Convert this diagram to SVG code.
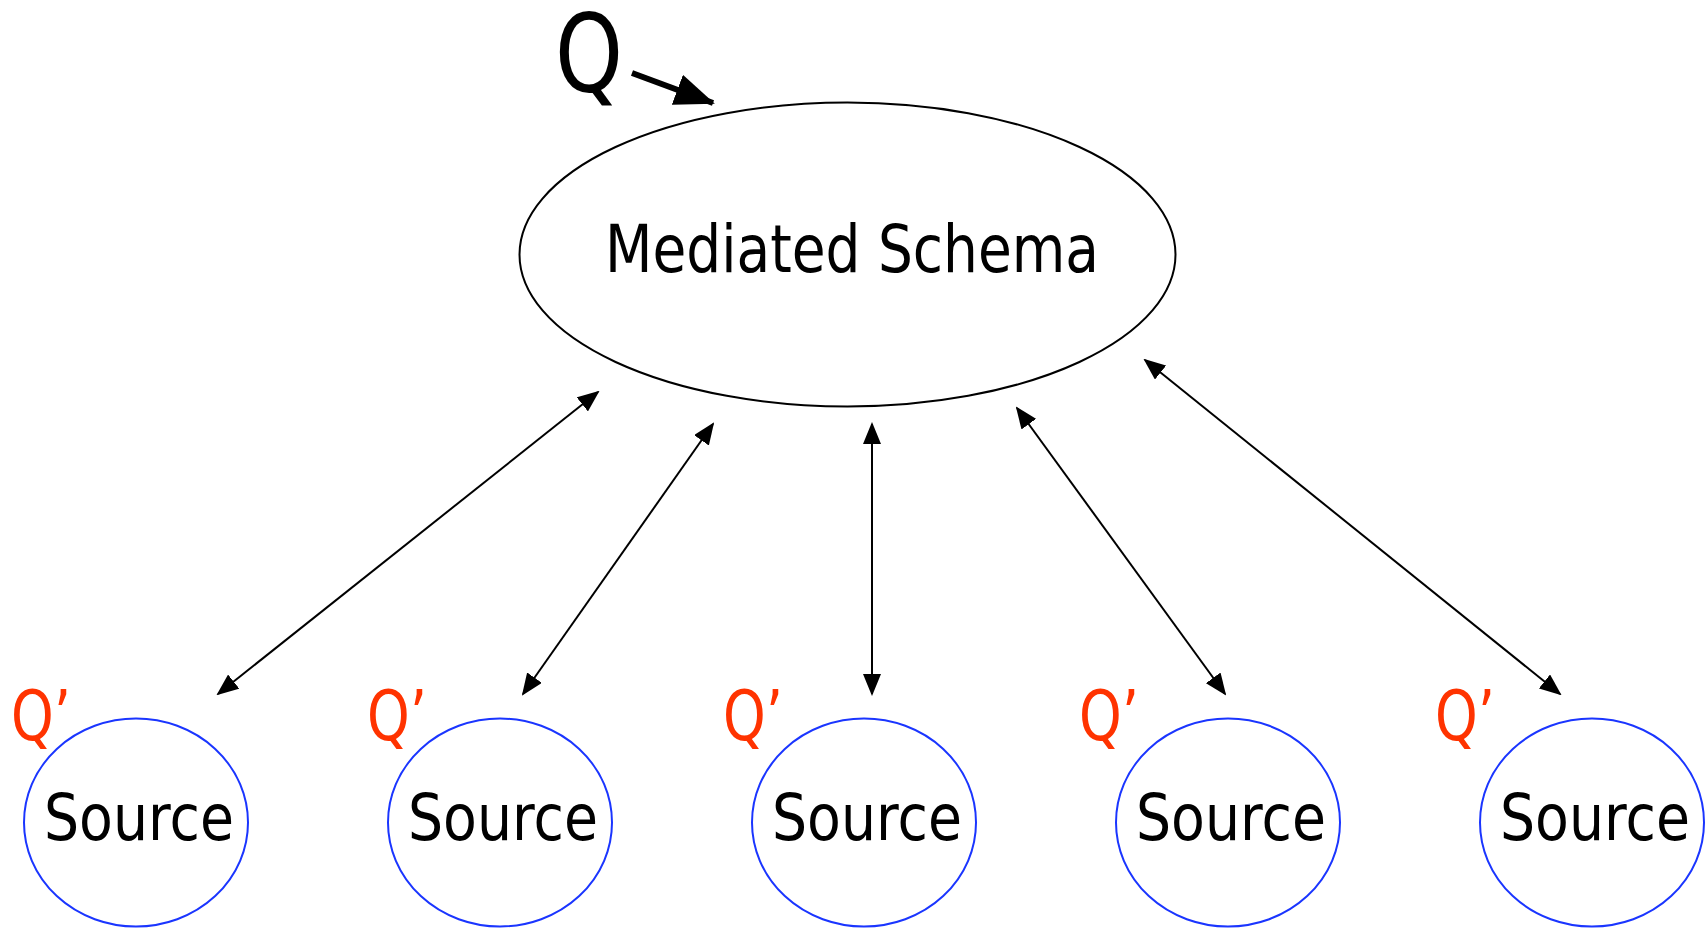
<svg xmlns="http://www.w3.org/2000/svg" width="1707" height="928" viewBox="0 0 1707 928">
<defs>
<marker id="ah" markerUnits="userSpaceOnUse" markerWidth="22" markerHeight="18" refX="20" refY="9" orient="auto-start-reverse" viewBox="0 0 22 18">
<path d="M0,0 L22,9 L0,18 Z" fill="#000"/>
</marker>
<marker id="ahBig" markerUnits="userSpaceOnUse" markerWidth="40" markerHeight="32" refX="38" refY="16" orient="auto" viewBox="0 0 40 32">
<path d="M0,0 L40,16 L0,32 Z" fill="#000"/>
</marker>
<style>
.src{fill:#fff;stroke:#1a35ff;stroke-width:2}
.stxt{font-family:"DejaVu Sans",Verdana,sans-serif;font-size:64px;fill:#000;text-anchor:middle}
.qp{font-family:"DejaVu Sans",Verdana,sans-serif;font-size:70px;fill:#ff3300}
.conn{stroke:#000;stroke-width:2;fill:none;marker-start:url(#ah);marker-end:url(#ah)}
</style>
</defs>
<rect width="1707" height="928" fill="#fff"/>
<g id="mediated">
<ellipse cx="847.5" cy="254.5" rx="328" ry="152" fill="#fff" stroke="#000" stroke-width="2"/>
<text x="852" y="272" font-family="'DejaVu Sans',Verdana,sans-serif" font-size="66" text-anchor="middle" textLength="494" lengthAdjust="spacingAndGlyphs">Mediated Schema</text>
</g>
<g id="query">
<text x="555" y="92" font-family="'DejaVu Sans',Verdana,sans-serif" font-size="108" textLength="68" lengthAdjust="spacingAndGlyphs">Q</text>
<line x1="632" y1="73" x2="713" y2="103" stroke="#000" stroke-width="6" marker-end="url(#ahBig)"/>
</g>
<g id="connectors">
<line class="conn" x1="598" y1="392" x2="218" y2="694"/>
<line class="conn" x1="713" y1="424" x2="523" y2="694"/>
<line class="conn" x1="872" y1="424" x2="872" y2="694"/>
<line class="conn" x1="1017" y1="408" x2="1225" y2="694"/>
<line class="conn" x1="1145" y1="360" x2="1560" y2="694"/>
</g>
<g id="source1">
<ellipse class="src" cx="136" cy="822.5" rx="112" ry="104"/>
<text class="stxt" x="139" y="840" textLength="190" lengthAdjust="spacingAndGlyphs">Source</text>
<text class="qp" x="11" y="740" textLength="60" lengthAdjust="spacingAndGlyphs">Q’</text>
</g>
<g id="source2">
<ellipse class="src" cx="500" cy="822.5" rx="112" ry="104"/>
<text class="stxt" x="503" y="840" textLength="190" lengthAdjust="spacingAndGlyphs">Source</text>
<text class="qp" x="367" y="740" textLength="60" lengthAdjust="spacingAndGlyphs">Q’</text>
</g>
<g id="source3">
<ellipse class="src" cx="864" cy="822.5" rx="112" ry="104"/>
<text class="stxt" x="867" y="840" textLength="190" lengthAdjust="spacingAndGlyphs">Source</text>
<text class="qp" x="723" y="740" textLength="60" lengthAdjust="spacingAndGlyphs">Q’</text>
</g>
<g id="source4">
<ellipse class="src" cx="1228" cy="822.5" rx="112" ry="104"/>
<text class="stxt" x="1231" y="840" textLength="190" lengthAdjust="spacingAndGlyphs">Source</text>
<text class="qp" x="1079" y="740" textLength="60" lengthAdjust="spacingAndGlyphs">Q’</text>
</g>
<g id="source5">
<ellipse class="src" cx="1592" cy="822.5" rx="112" ry="104"/>
<text class="stxt" x="1595" y="840" textLength="190" lengthAdjust="spacingAndGlyphs">Source</text>
<text class="qp" x="1435" y="740" textLength="60" lengthAdjust="spacingAndGlyphs">Q’</text>
</g>
</svg>
